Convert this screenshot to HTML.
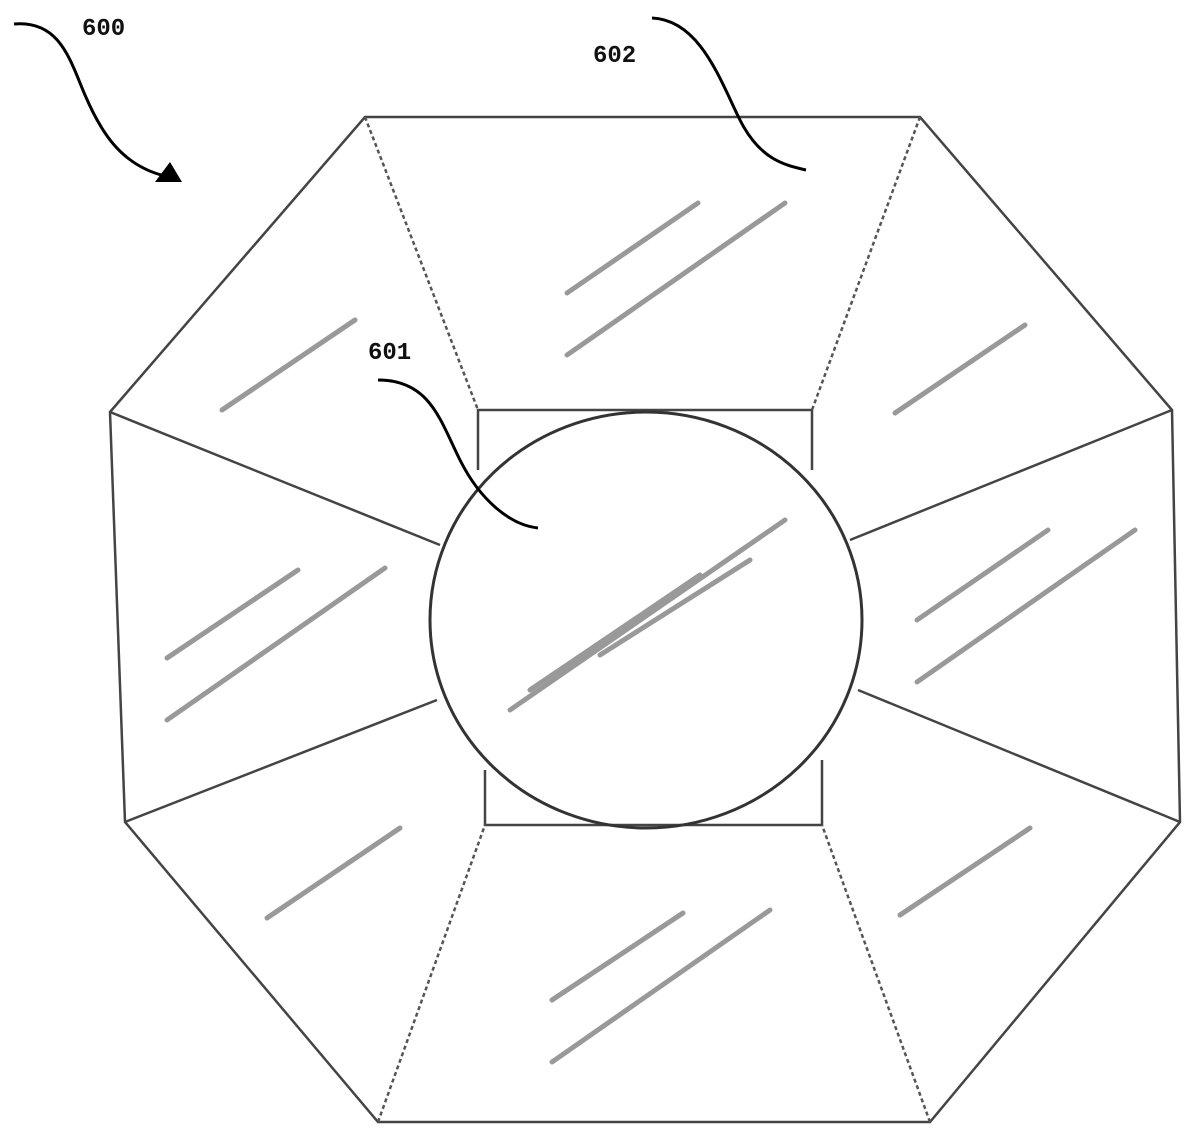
<!DOCTYPE html>
<html><head><meta charset="utf-8"><style>
html,body{margin:0;padding:0;background:#fff;width:1200px;height:1140px;overflow:hidden}
text{font-family:"Liberation Mono",monospace;font-weight:bold;font-size:24px;fill:#111}
</style></head><body>
<svg width="1200" height="1140" viewBox="0 0 1200 1140" xmlns="http://www.w3.org/2000/svg">
<g fill="none" stroke="#444" stroke-width="2.5">
<polygon points="365,117 920,117 1172,410 1180,822 930,1122 378,1122 125,822 110,412"/>
<polyline points="478,470 478,410 812,410 812,470"/>
<polyline points="485,770 485,825 822,825 822,760"/>
<ellipse cx="646" cy="620" rx="216" ry="208" stroke="#333" stroke-width="3"/>
<g stroke-dasharray="4,3" stroke="#555">
<line x1="365" y1="117" x2="478" y2="410"/>
<line x1="920" y1="117" x2="812" y2="410"/>
<line x1="930" y1="1122" x2="822" y2="825"/>
<line x1="378" y1="1122" x2="485" y2="825"/>
</g>
<line x1="1172" y1="410" x2="850" y2="540"/>
<line x1="1180" y1="822" x2="858" y2="690"/>
<line x1="125" y1="822" x2="437" y2="700"/>
<line x1="110" y1="412" x2="440" y2="545"/>
</g>
<g stroke="#999" stroke-width="5" stroke-linecap="round">
<line x1="567" y1="293" x2="698" y2="203"/><line x1="567" y1="355" x2="785" y2="203"/>
<line x1="222" y1="410" x2="355" y2="320"/>
<line x1="895" y1="413" x2="1025" y2="325"/>
<line x1="167" y1="658" x2="298" y2="570"/><line x1="167" y1="720" x2="385" y2="568"/>
<line x1="917" y1="620" x2="1048" y2="530"/><line x1="917" y1="682" x2="1135" y2="530"/>
<line x1="510" y1="710" x2="785" y2="520"/><line x1="530" y1="690" x2="700" y2="575"/><line x1="600" y1="655" x2="750" y2="560"/>
<line x1="267" y1="918" x2="400" y2="828"/>
<line x1="900" y1="915" x2="1030" y2="828"/>
<line x1="552" y1="1000" x2="683" y2="913"/><line x1="552" y1="1062" x2="770" y2="910"/>
</g>
<g fill="none" stroke="#000" stroke-width="3">
<path d="M14,24 C60,20 70,60 85,95 C100,130 120,165 165,176"/>
<path d="M652,18 C700,20 720,80 740,120 C760,160 785,165 806,170"/>
<path d="M378,380 C430,380 440,420 460,460 C480,500 510,525 538,528"/>
</g>
<polygon points="155,182 182,182 170,162" fill="#000"/>
<text x="82" y="35">600</text>
<text x="593" y="62">602</text>
<text x="368" y="359">601</text>
</svg>
</body></html>
